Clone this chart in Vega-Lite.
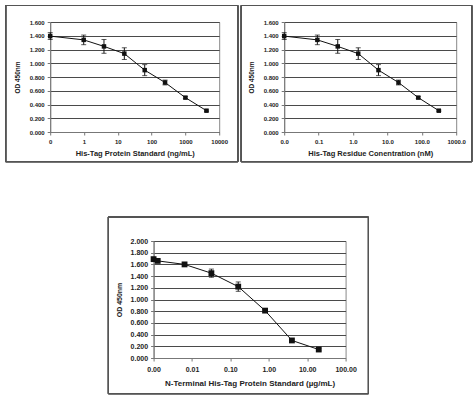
{
  "$schema": "https://vega.github.io/schema/vega-lite/v6.json",
  "padding": {"left": 4, "top": 4, "right": 0, "bottom": 0},
  "background": "white",
  "datasets": {
    "ngml": [
      {"x": 0.1, "y": 1.395, "lo": 1.345, "hi": 1.445},
      {"x": 0.98, "y": 1.34, "lo": 1.27, "hi": 1.41},
      {"x": 3.9, "y": 1.245, "lo": 1.145, "hi": 1.345},
      {"x": 15.6, "y": 1.14, "lo": 1.055, "hi": 1.225},
      {"x": 62.5, "y": 0.9, "lo": 0.82, "hi": 0.98},
      {"x": 250, "y": 0.72, "lo": 0.685, "hi": 0.755},
      {"x": 1000, "y": 0.5, "lo": 0.485, "hi": 0.515},
      {"x": 4200, "y": 0.31, "lo": 0.3, "hi": 0.32}
    ],
    "nm": [
      {"x": 0.01, "y": 1.395, "lo": 1.345, "hi": 1.445},
      {"x": 0.092, "y": 1.34, "lo": 1.27, "hi": 1.41},
      {"x": 0.36, "y": 1.245, "lo": 1.145, "hi": 1.345},
      {"x": 1.42, "y": 1.14, "lo": 1.055, "hi": 1.225},
      {"x": 5.5, "y": 0.9, "lo": 0.82, "hi": 0.98},
      {"x": 21, "y": 0.72, "lo": 0.685, "hi": 0.755},
      {"x": 79, "y": 0.5, "lo": 0.485, "hi": 0.515},
      {"x": 312, "y": 0.31, "lo": 0.3, "hi": 0.32}
    ],
    "ugml": [
      {"x": 0.001, "y": 1.69, "lo": 1.67, "hi": 1.71},
      {"x": 0.00128, "y": 1.66, "lo": 1.64, "hi": 1.68},
      {"x": 0.0064, "y": 1.6, "lo": 1.58, "hi": 1.62},
      {"x": 0.032, "y": 1.45, "lo": 1.38, "hi": 1.52},
      {"x": 0.16, "y": 1.22, "lo": 1.14, "hi": 1.3},
      {"x": 0.8, "y": 0.81, "lo": 0.79, "hi": 0.83},
      {"x": 4, "y": 0.3, "lo": 0.28, "hi": 0.32},
      {"x": 20, "y": 0.145, "lo": 0.125, "hi": 0.165}
    ]
  },
  "vconcat": [
    {
      "hconcat": [
        {
          "width": 169, "height": 110,
          "data": {"name": "ngml"},
          "encoding": {
            "x": {"field": "x", "type": "quantitative",
                  "scale": {"type": "log", "domain": [0.1, 10000]},
                  "axis": {"title": "His-Tag Protein Standard (ng/mL)", "values": [0.1, 1, 10, 100, 1000, 10000], "format": ".0f"}}
          },
          "layer": [
            {"mark": {"type": "errorbar", "ticks": {"size": 5}, "color": "#111", "thickness": 1},
             "encoding": {"y": {"field": "lo", "type": "quantitative", "title": "OD 450nm",
                                "scale": {"domain": [0, 1.6]},
                                "axis": {"values": [0, 0.2, 0.4, 0.6, 0.8, 1, 1.2, 1.4, 1.6], "tickCount": 9, "format": ".3f"}},
                          "y2": {"field": "hi"}}},
            {"mark": {"type": "line", "color": "#111", "strokeWidth": 1},
             "encoding": {"y": {"field": "y", "type": "quantitative", "title": "OD 450nm",
                                "axis": {"values": [0, 0.2, 0.4, 0.6, 0.8, 1, 1.2, 1.4, 1.6], "tickCount": 9, "format": ".3f"}}}},
            {"mark": {"type": "point", "shape": "square", "filled": true, "color": "#111", "size": 20, "opacity": 1},
             "encoding": {"y": {"field": "y", "type": "quantitative", "title": "OD 450nm",
                                "axis": {"values": [0, 0.2, 0.4, 0.6, 0.8, 1, 1.2, 1.4, 1.6], "tickCount": 9, "format": ".3f"}}}},
            {"mark": {"type": "rect", "filled": false, "color": "#555", "strokeWidth": 1, "clip": false},
             "encoding": {"x": {"datum": 0.00483}, "x2": {"datum": 35700},
                          "y": {"datum": -0.432, "title": "OD 450nm", "axis": {"values": [0, 0.2, 0.4, 0.6, 0.8, 1, 1.2, 1.4, 1.6], "tickCount": 9, "format": ".3f"}},
                          "y2": {"datum": 1.84}}}
          ]
        },
        {
          "width": 172, "height": 110,
          "data": {"name": "nm"},
          "encoding": {
            "x": {"field": "x", "type": "quantitative",
                  "scale": {"type": "log", "domain": [0.01, 1000]},
                  "axis": {"title": "His-Tag Residue Conentration (nM)", "values": [0.01, 0.1, 1, 10, 100, 1000], "format": ".1f"}}
          },
          "layer": [
            {"mark": {"type": "errorbar", "ticks": {"size": 5}, "color": "#111", "thickness": 1},
             "encoding": {"y": {"field": "lo", "type": "quantitative", "title": "OD 450nm",
                                "scale": {"domain": [0, 1.6]},
                                "axis": {"values": [0, 0.2, 0.4, 0.6, 0.8, 1, 1.2, 1.4, 1.6], "tickCount": 9, "format": ".3f"}},
                          "y2": {"field": "hi"}}},
            {"mark": {"type": "line", "color": "#111", "strokeWidth": 1},
             "encoding": {"y": {"field": "y", "type": "quantitative", "title": "OD 450nm",
                                "axis": {"values": [0, 0.2, 0.4, 0.6, 0.8, 1, 1.2, 1.4, 1.6], "tickCount": 9, "format": ".3f"}}}},
            {"mark": {"type": "point", "shape": "square", "filled": true, "color": "#111", "size": 20, "opacity": 1},
             "encoding": {"y": {"field": "y", "type": "quantitative", "title": "OD 450nm",
                                "axis": {"values": [0, 0.2, 0.4, 0.6, 0.8, 1, 1.2, 1.4, 1.6], "tickCount": 9, "format": ".3f"}}}},
            {"mark": {"type": "rect", "filled": false, "color": "#555", "strokeWidth": 1, "clip": false},
             "encoding": {"x": {"datum": 0.000562}, "x2": {"datum": 2840},
                          "y": {"datum": -0.432, "title": "OD 450nm", "axis": {"values": [0, 0.2, 0.4, 0.6, 0.8, 1, 1.2, 1.4, 1.6], "tickCount": 9, "format": ".3f"}},
                          "y2": {"datum": 1.84}}}
          ]
        }
      ],
      "spacing": 0
    },
    {
      "width": 192, "height": 117,
      "data": {"name": "ugml"},
      "encoding": {
        "x": {"field": "x", "type": "quantitative",
              "scale": {"type": "log", "domain": [0.001, 100]},
              "axis": {"title": "N-Terminal His-Tag Protein Standard (µg/mL)", "values": [0.001, 0.01, 0.1, 1, 10, 100], "format": ".2f",
                       "labelFontSize": 7, "titleFontSize": 8, "labelPadding": 4, "titlePadding": 7}}
      },
      "layer": [
        {"mark": {"type": "errorbar", "ticks": {"size": 5}, "color": "#111", "thickness": 1},
         "encoding": {"y": {"field": "lo", "type": "quantitative", "title": "OD 450nm",
                            "scale": {"domain": [0, 2]},
                            "axis": {"values": [0, 0.2, 0.4, 0.6, 0.8, 1, 1.2, 1.4, 1.6, 1.8, 2], "tickCount": 11, "format": ".3f",
                                     "labelFontSize": 7, "titleFontSize": 7, "labelPadding": 3, "titlePadding": 8}},
                      "y2": {"field": "hi"}}},
        {"mark": {"type": "line", "color": "#111", "strokeWidth": 1},
         "encoding": {"y": {"field": "y", "type": "quantitative", "title": "OD 450nm",
                            "axis": {"values": [0, 0.2, 0.4, 0.6, 0.8, 1, 1.2, 1.4, 1.6, 1.8, 2], "tickCount": 11, "format": ".3f",
                                     "labelFontSize": 7, "titleFontSize": 7, "labelPadding": 3, "titlePadding": 8}}}},
        {"mark": {"type": "point", "shape": "square", "filled": true, "color": "#111", "size": 34, "opacity": 1},
         "encoding": {"y": {"field": "y", "type": "quantitative", "title": "OD 450nm",
                            "axis": {"values": [0, 0.2, 0.4, 0.6, 0.8, 1, 1.2, 1.4, 1.6, 1.8, 2], "tickCount": 11, "format": ".3f",
                                     "labelFontSize": 7, "titleFontSize": 7, "labelPadding": 3, "titlePadding": 8}}}},
        {"mark": {"type": "rect", "filled": false, "color": "#555", "strokeWidth": 1, "clip": false},
         "encoding": {"x": {"datum": 0.0000664}, "x2": {"datum": 393},
                      "y": {"datum": -0.61, "title": "OD 450nm", "axis": {"values": [0, 0.2, 0.4, 0.6, 0.8, 1, 1.2, 1.4, 1.6, 1.8, 2], "tickCount": 11, "format": ".3f",
                                     "labelFontSize": 7, "titleFontSize": 7, "labelPadding": 3, "titlePadding": 8}},
                      "y2": {"datum": 2.41}}}
      ]
    }
  ],
  "spacing": 53,
  "center": true,
  "config": {
    "view": {"stroke": "#888", "strokeWidth": 1},
    "axis": {
      "labelFont": "Liberation Sans", "labelFontWeight": "bold", "labelFontSize": 6, "labelColor": "#222",
      "titleFont": "Liberation Sans", "titleFontWeight": "bold", "titleFontSize": 7, "titleColor": "#222",
      "domainColor": "#777", "tickColor": "#777", "tickSize": 3, "gridColor": "#4a4a4a", "gridWidth": 1,
      "labelOverlap": false
    },
    "axisX": {"grid": false, "labelPadding": 3, "titlePadding": 5, "titleFontSize": 7.5, "labelFlush": false},
    "axisY": {"grid": true, "labelPadding": 3, "titlePadding": 9, "titleFontSize": 6.5}
  }
}
